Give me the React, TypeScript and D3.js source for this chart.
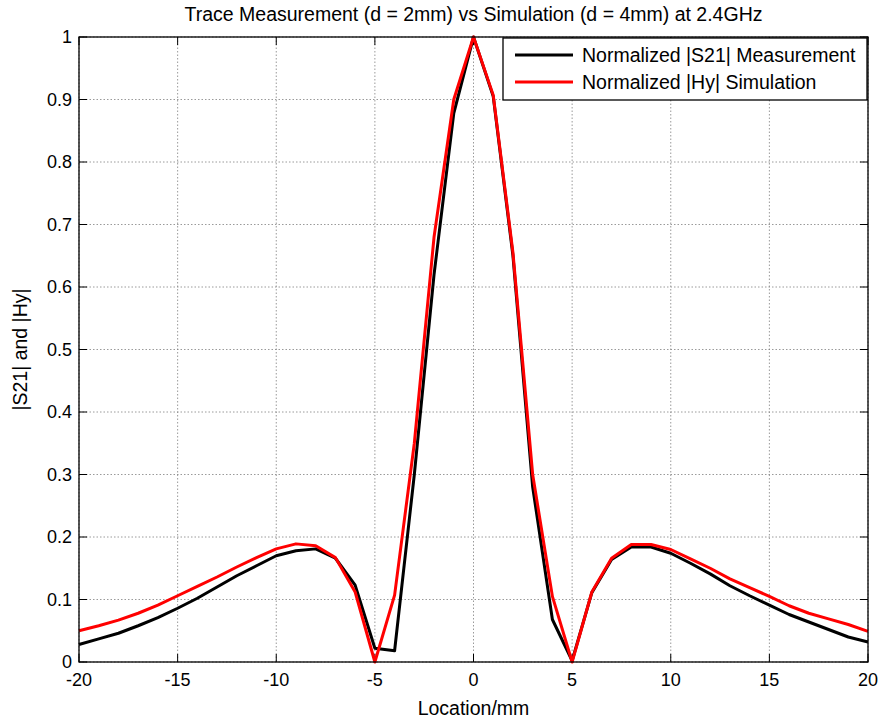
import React from "react";
import * as d3 from "d3";

const locations: number[] = d3.range(-20, 21, 1);

const measurement: number[] = [
  0.028, 0.037, 0.046, 0.058, 0.071, 0.086, 0.102, 0.120, 0.138, 0.154,
  0.170, 0.178, 0.181, 0.166, 0.123, 0.022, 0.018, 0.300, 0.620, 0.878,
  1.000,
  0.905, 0.650, 0.280, 0.068, 0.002, 0.111, 0.164, 0.184, 0.184, 0.174,
  0.158, 0.141, 0.122, 0.106, 0.091, 0.076, 0.064, 0.052, 0.040, 0.032,
];

const simulation: number[] = [
  0.050, 0.058, 0.067, 0.078, 0.091, 0.106, 0.121, 0.136, 0.152, 0.167,
  0.181, 0.189, 0.186, 0.167, 0.112, 0.000, 0.107, 0.350, 0.680, 0.900,
  1.000,
  0.907, 0.655, 0.300, 0.105, 0.000, 0.112, 0.166, 0.188, 0.188, 0.180,
  0.165, 0.150, 0.133, 0.119, 0.105, 0.090, 0.078, 0.069, 0.060, 0.049,
];

const xTicks: number[] = [-20, -15, -10, -5, 0, 5, 10, 15, 20];
const yTicks: number[] = [0, 0.1, 0.2, 0.3, 0.4, 0.5, 0.6, 0.7, 0.8, 0.9, 1];

const titleText = "Trace Measurement (d = 2mm) vs Simulation (d = 4mm) at 2.4GHz";
const xLabel = "Location/mm";
const yLabel = "|S21| and |Hy|";
const seriesNames: string[] = ["Normalized |S21| Measurement", "Normalized |Hy| Simulation"];
const seriesColors: string[] = ["#000000", "#ff0000"];

const W = 882;
const H = 719;
const L = 79;
const R = 868;
const T = 37;
const B = 662;
const FONT = "Arial, 'Liberation Sans', Helvetica, sans-serif";

export default function App() {
  const x = d3.scaleLinear().domain([-20, 20]).range([L, R]);
  const y = d3.scaleLinear().domain([0, 1]).range([B, T]);
  const line = d3
    .line<[number, number]>()
    .x((d) => x(d[0]))
    .y((d) => y(d[1]));
  const series = [measurement, simulation];
  const tickLen = 8;

  return (
    <svg
      width={W}
      height={H}
      style={{ position: "absolute", left: 0, top: 0, display: "block", background: "#fff" }}
      fontFamily={FONT}
    >
      <rect x={0} y={0} width={W} height={H} fill="#fff" />
      {/* grid */}
      {xTicks.map((t) => (
        <line
          key={"gx" + t}
          x1={x(t)}
          x2={x(t)}
          y1={T}
          y2={B}
          stroke="#808080"
          strokeWidth={0.8}
          strokeDasharray="1.5,2"
        />
      ))}
      {yTicks.map((t) => (
        <line
          key={"gy" + t}
          x1={L}
          x2={R}
          y1={y(t)}
          y2={y(t)}
          stroke="#808080"
          strokeWidth={0.8}
          strokeDasharray="1.5,2"
        />
      ))}
      {/* ticks */}
      {xTicks.map((t) => (
        <g key={"tx" + t}>
          <line x1={x(t)} x2={x(t)} y1={B} y2={B - tickLen} stroke="#000" strokeWidth={1} />
          <line x1={x(t)} x2={x(t)} y1={T} y2={T + tickLen} stroke="#000" strokeWidth={1} />
          <text x={x(t)} y={686} textAnchor="middle" fontSize={18} fill="#000">
            {t}
          </text>
        </g>
      ))}
      {yTicks.map((t) => (
        <g key={"ty" + t}>
          <line x1={L} x2={L + tickLen} y1={y(t)} y2={y(t)} stroke="#000" strokeWidth={1} />
          <line x1={R} x2={R - tickLen} y1={y(t)} y2={y(t)} stroke="#000" strokeWidth={1} />
          <text x={72} y={y(t)} dy="0.35em" textAnchor="end" fontSize={18} fill="#000">
            {t}
          </text>
        </g>
      ))}
      {/* data */}
      {series.map((s, i) => (
        <path
          key={"s" + i}
          d={line(locations.map((l, j) => [l, s[j]] as [number, number])) || ""}
          fill="none"
          stroke={seriesColors[i]}
          strokeWidth={3}
          strokeLinejoin="round"
        />
      ))}
      {/* box */}
      <rect x={L} y={T} width={R - L} height={B - T} fill="none" stroke="#000" strokeWidth={1.3} />
      {/* title & labels */}
      <text x={(L + R) / 2} y={21} textAnchor="middle" fontSize={19.5} fill="#000">
        {titleText}
      </text>
      <text x={(L + R) / 2} y={715} textAnchor="middle" fontSize={19.5} fill="#000">
        {xLabel}
      </text>
      <text
        transform={`translate(27,${(T + B) / 2}) rotate(-90)`}
        textAnchor="middle"
        fontSize={19.5}
        fill="#000"
      >
        {yLabel}
      </text>
      {/* legend */}
      <g>
        <rect x={503} y={38} width={364} height={62} fill="#fff" stroke="#000" strokeWidth={1.3} />
        {seriesNames.map((n, i) => (
          <g key={"lg" + i}>
            <line
              x1={515}
              x2={573}
              y1={55 + i * 27}
              y2={55 + i * 27}
              stroke={seriesColors[i]}
              strokeWidth={3}
            />
            <text x={582} y={55 + i * 27} dy="0.35em" fontSize={19.5} fill="#000">
              {n}
            </text>
          </g>
        ))}
      </g>
    </svg>
  );
}
